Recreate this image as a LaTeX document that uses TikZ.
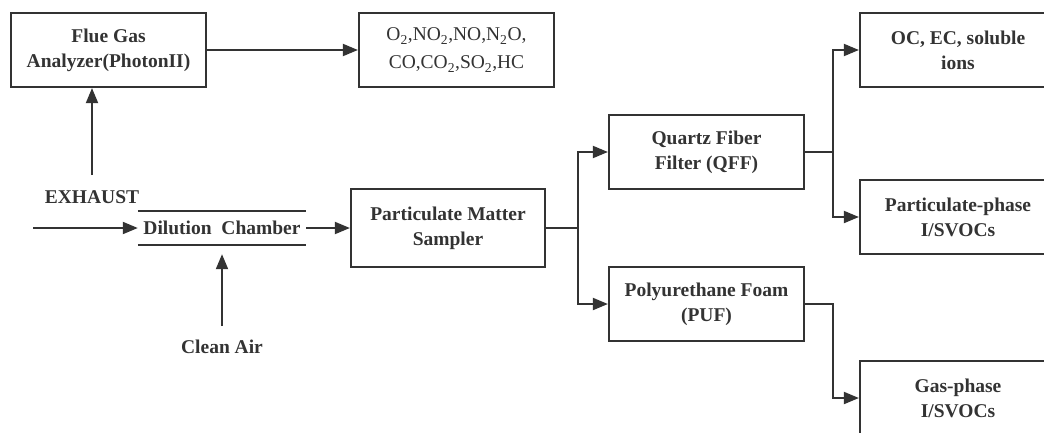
\documentclass[tikz,border=0pt]{standalone}
\usepackage{fontspec}
\setmainfont{Liberation Serif}
\usetikzlibrary{arrows.meta,positioning}
\definecolor{ink}{HTML}{333333}

\begin{document}
\begin{tikzpicture}[
 x=1pt,y=1pt,
 box/.style={draw=ink,line width=2.2pt,text=ink,minimum width=195pt,minimum height=74pt,
 align=center,font=\fontsize{19.5}{25}\selectfont\bfseries,inner sep=0pt},
 lbl/.style={text=ink,font=\fontsize{19.5}{25}\selectfont\bfseries,inner sep=0pt},
 arr/.style={-{Triangle[length=15pt,width=12pt]},line width=1.9pt,draw=ink}]
\useasboundingbox (0,0) rectangle (1044,-432);
\clip (0,0) rectangle (1044,-432);
% top row
\node[box] (flue) at (108.5,-50) {Flue Gas\\Analyzer(PhotonII)};
\node[box,font=\fontsize{19.5}{28}\selectfont] (gas) at (456.5,-50)
 {O\textsubscript{2},NO\textsubscript{2},NO,N\textsubscript{2}O,\\CO,CO\textsubscript{2},SO\textsubscript{2},HC};
% dilution
\node[lbl] (exh) at (92,-197) {EXHAUST};
\node[lbl,minimum width=168pt,minimum height=34pt] (dil) at (222,-228) {Dilution\ \ Chamber};
\draw[ink,line width=1.9pt] (dil.north west) -- (dil.north east);
\draw[ink,line width=1.9pt] (dil.south west) -- (dil.south east);
\node[lbl] (air) at (222,-347) {Clean Air};
\coordinate (in) at (33,-228);
% samplers
\node[box,minimum width=194pt,minimum height=78pt] (pm) at (448,-228) {Particulate Matter\\Sampler};
\node[box] (qff) at (706.5,-152) {Quartz Fiber\\Filter (QFF)};
\node[box] (puf) at (706.5,-304) {Polyurethane Foam\\(PUF)};
% products
\node[box,minimum width=196pt] (oc) at (958,-50) {OC, EC, soluble\\ions};
\node[box,minimum width=196pt] (pp) at (958,-217) {Particulate-phase\\I/SVOCs};
\node[box,minimum width=196pt] (gp) at (958,-398) {Gas-phase\\I/SVOCs};
% connectors
\draw[arr] (flue) -- (gas);
\draw[arr] (exh.north |- 0,-175) -- (exh.north |- flue.south);
\draw[arr] (in) -- (dil.west);
\draw[arr,shorten >=9pt] (air.north |- 0,-326) -- (dil.south);
\draw[arr] (dil.east) -- (pm.west);
\draw[arr] (pm.east) -- ++(32,0) |- (qff.west);
\draw[arr] (pm.east) -- ++(32,0) |- (puf.west);
\draw[arr] (qff.east) -- ++(28,0) |- (oc.west);
\draw[arr] (qff.east) -- ++(28,0) |- (pp.west);
\draw[arr] (puf.east) -- ++(28,0) |- (gp.west);
\end{tikzpicture}
\end{document}
